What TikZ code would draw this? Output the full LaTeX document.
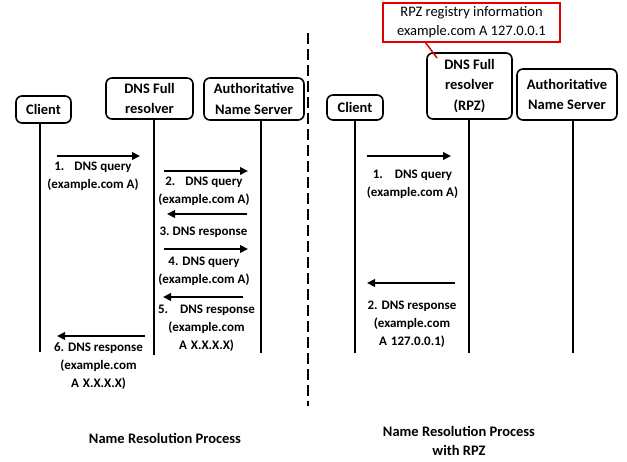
\documentclass[tikz,border=0pt]{standalone}
\usepackage{fontspec}
\setmainfont{Carlito}
\usetikzlibrary{arrows.meta}

\tikzset{
  actor/.style={draw, line width=1.6pt, rounded corners=6pt, inner sep=0pt,
    align=center, font=\bfseries\fontsize{14.5}{20.5}\selectfont},
  life/.style={line width=2pt},
  msg/.style={line width=2.4pt, -{Triangle[length=8pt,width=7.5pt]}},
  lbl/.style={inner sep=0pt, align=center, font=\bfseries\fontsize{13}{18}\selectfont},
  caption/.style={inner sep=0pt, align=center, font=\bfseries\fontsize{14.5}{19.5}\selectfont},
  note/.style={draw=red!90!black, line width=1.5pt, inner sep=0pt, align=center,
    font=\fontsize{14.5}{19}\selectfont},
}

\begin{document}
\begin{tikzpicture}[x=1pt, y=-1pt]
\useasboundingbox (0,0) rectangle (627,462);

% ---------- plain name resolution ----------
\node[actor, minimum width=55pt, minimum height=27pt] (cl1) at (43.5,109.5) {Client};
\node[actor, minimum width=87pt, minimum height=41pt] (res1) at (149.5,98.5) {DNS Full\\resolver};
\node[actor, minimum width=100pt, minimum height=42pt] (auth1) at (254,99) {Authoritative\\Name Server};

\coordinate (cl1top) at (40,123);  \coordinate (cl1end) at (40,352);
\coordinate (res1top) at (154,119); \coordinate (res1end) at (154,355);
\coordinate (auth1top) at (261,120); \coordinate (auth1end) at (261,353);
\draw[life] (cl1top) -- (cl1end);
\draw[life] (res1top) -- (res1end);
\draw[life] (auth1top) -- (auth1end);

% message end points
\coordinate (a1s) at (57,156);  \coordinate (a1e) at (140,156);
\coordinate (a2s) at (164,171); \coordinate (a2e) at (248,171);
\coordinate (a3s) at (247,214); \coordinate (a3e) at (167,214);
\coordinate (a4s) at (164,249); \coordinate (a4e) at (248,249);
\coordinate (a5s) at (243,297); \coordinate (a5e) at (163,297);
\coordinate (a6s) at (145,336); \coordinate (a6e) at (57,336);
\draw[msg] (a1s) -- (a1e);
\draw[msg] (a2s) -- (a2e);
\draw[msg] (a3s) -- (a3e);
\draw[msg] (a4s) -- (a4e);
\draw[msg] (a5s) -- (a5e);
\draw[msg] (a6s) -- (a6e);

\node[lbl] (t1) at (93,176) {1.\hspace{10pt}DNS query\\(example.com A)};
\node[lbl] (t2) at (204,191) {2.\hspace{10pt}DNS query\\(example.com A)};
\node[lbl] (t3) at (203.5,232) {3.\hspace{3pt}DNS response};
\node[lbl] (t4) at (204,271.5) {4. DNS query\\(example.com A)};
\node[lbl] (t5) at (206.5,328.5) {5.\hspace{12pt}DNS response\\(example.com\\A\hspace{4pt}X.X.X.X)};
\node[lbl] (t6) at (98.5,366.5) {6. DNS response\\(example.com\\A\hspace{4pt}X.X.X.X)};

\node[caption] (cap1) at (165,438) {Name Resolution Process};

% ---------- divider ----------
\coordinate (divtop) at (308,33);
\coordinate (divend) at (308,406);
\draw[line width=2.5pt, dash pattern=on 11pt off 5pt] (divtop) -- (divend);

% ---------- name resolution with RPZ ----------
\node[actor, minimum width=56pt, minimum height=25pt] (cl2) at (355,107.5) {Client};
\node[actor, minimum width=85pt, minimum height=66pt] (res2) at (469.5,86) {DNS Full\\resolver\\(RPZ)};
\node[actor, minimum width=100pt, minimum height=51pt] (auth2) at (567,94.5) {Authoritative\\Name Server};

\node[note, minimum width=177pt, minimum height=39pt] (rpz) at (471.5,22.5)
  {RPZ registry information\\example.com A 127.0.0.1};
\coordinate (rpzfoot) at (425,42);
\coordinate (rpzhead) at (437,58);
\draw[red!90!black, line width=1.5pt] (rpzfoot) -- (rpzhead);

\coordinate (cl2top) at (355,120);  \coordinate (cl2end) at (355,353);
\coordinate (res2top) at (469,119); \coordinate (res2end) at (469,353);
\coordinate (auth2top) at (573,120); \coordinate (auth2end) at (573,353);
\draw[life] (cl2top) -- (cl2end);
\draw[life] (res2top) -- (res2end);
\draw[life] (auth2top) -- (auth2end);

\coordinate (b1s) at (367,156); \coordinate (b1e) at (451,156);
\coordinate (b2s) at (455,283); \coordinate (b2e) at (367,283);
\draw[msg] (b1s) -- (b1e);
\draw[msg] (b2s) -- (b2e);

\node[lbl] (u1) at (412.5,184.5) {1.\hspace{12pt}DNS query\\(example.com A)};
\node[lbl] (u2) at (412,324) {2. DNS response\\(example.com\\A\hspace{4pt}127.0.0.1)};

\node[caption] (cap2) at (459,441) {Name Resolution Process\\with RPZ};
\end{tikzpicture}
\end{document}
